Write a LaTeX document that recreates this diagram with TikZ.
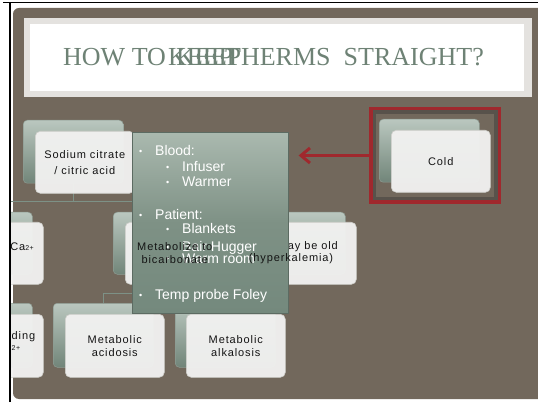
\documentclass[tikz,border=0pt]{standalone}
\usepackage{fontspec}
\setmainfont{Liberation Serif}
\setsansfont{Liberation Sans}
\newfontfamily\cardfont[LetterSpace=8]{Liberation Sans}
\usetikzlibrary{arrows.meta}
\definecolor{brownbg}{HTML}{72685C}
\definecolor{titlegray}{HTML}{E4E2DF}
\definecolor{titletext}{HTML}{6E8275}
\definecolor{cardtop}{HTML}{BAC7BF}
\definecolor{cardbot}{HTML}{718579}
\definecolor{cardedge}{HTML}{8E9C93}
\definecolor{frontfill}{HTML}{F1F1F0}
\definecolor{frontedge}{HTML}{CFCFCB}
\definecolor{linkc}{HTML}{7D9186}
\definecolor{boxtop}{HTML}{AAB9AF}
\definecolor{boxmid}{HTML}{7E9185}
\definecolor{boxbot}{HTML}{74897D}
\definecolor{boxedge}{HTML}{5C6B62}
\definecolor{redc}{HTML}{A0282D}
\definecolor{framegray}{HTML}{58524B}
\tikzset{
  backcard/.style={draw=cardedge, line width=0.5pt, rounded corners=4pt, top color=cardtop, bottom color=cardbot, inner sep=0pt, anchor=north west},
  frontcard/.style={draw=frontedge, line width=0.6pt, rounded corners=5pt, fill=frontfill, fill opacity=0.96, inner sep=0pt, anchor=north west},
  cardtext/.style={font=\cardfont\fontsize{11}{13}\selectfont, text=black!92, align=center, inner sep=0pt},
  link/.style={draw=linkc, line width=0.7pt},
  bul/.style={font=\sffamily\fontsize{14}{16}\selectfont, text=white, anchor=base west, inner sep=0pt},
  dot/.style={font=\sffamily\fontsize{9}{10}\selectfont, text=white, anchor=base west, inner sep=0pt},
  ttl/.style={font=\fontsize{26}{30}\selectfont, text=titletext, inner sep=0pt, anchor=base west}
}
\begin{document}
\begin{tikzpicture}[x=1pt,y=1pt]
\useasboundingbox (0,0) rectangle (538,402);
\fill[white] (0,0) rectangle (538,402);
\fill[brownbg, rounded corners=6pt] (13,3) rectangle (560,394);
\draw[black, line width=1.5pt] (9.8,0) -- (9.8,399.5);
\draw[black, line width=1.5pt] (3,399.3) -- (538,399.3);
% title
\node[fill=titlegray, minimum width=508pt, minimum height=79pt, inner sep=0pt, anchor=north west] (tbox) at (24,384) {};
\node[fill=white, minimum width=494pt, minimum height=67pt, inner sep=0pt, anchor=north west] (tin) at (30,378) {};
\node[ttl] (ta) at (63,336) {HOW TO};
\node[ttl] (tb) at (168,336) {KEEP};
\node[ttl] (tc) at (176,336) {KEEP};
\node[ttl] (td) at (225,336) {THERMS};
\node[ttl, anchor=base east] (te) at (484,336) {STRAIGHT?};
% diagram cards
\begin{scope}
\clip (11,0) rectangle (538,402);
\node[backcard, minimum width=100pt, minimum height=63pt] (sb) at (23,282) {};
\node[backcard, minimum width=100pt, minimum height=62pt] (cab) at (-68,190) {};
\node[backcard, minimum width=99pt, minimum height=62pt] (mb) at (113,190) {};
\node[backcard, minimum width=121pt, minimum height=62pt] (rb) at (224,190) {};
\node[backcard, minimum width=100pt, minimum height=64pt] (lbb) at (-68,99) {};
\node[backcard, minimum width=100pt, minimum height=64pt] (acb) at (53,99) {};
\node[backcard, minimum width=100pt, minimum height=64pt] (alb) at (175,99) {};
\draw[link] (sb.south) -- ++(0,-18) -| (cab.north);
\draw[link] (sb.south) -- ++(0,-18) -| (mb.north);
\draw[link] (sb.south) -- ++(0,-18) -| (rb.north);
\draw[link] (mb.south) -- ++(0,-19) -| (acb.north);
\draw[link] (mb.south) -- ++(0,-19) -| (alb.north);
\draw[link] (cab.south) -- (lbb.north);
\node[frontcard, minimum width=99pt, minimum height=62pt] (sf) at (35,271) {};
\node[frontcard, minimum width=99pt, minimum height=62pt] (caf) at (-56,180) {};
\node[frontcard, minimum width=99pt, minimum height=62pt] (mf) at (125,180) {};
\node[frontcard, minimum width=120pt, minimum height=62pt] (rf) at (236,180) {};
\node[frontcard, minimum width=99pt, minimum height=63pt] (lbf) at (-56,88) {};
\node[frontcard, minimum width=99pt, minimum height=63pt] (acf) at (65,88) {};
\node[frontcard, minimum width=99pt, minimum height=63pt] (alf) at (186,88) {};
\end{scope}
\node[cardtext, anchor=east] (r1) at (338,155) {may be old};
% cold
\node[backcard, minimum width=100pt, minimum height=63pt] (cb) at (379,283) {};
\node[frontcard, minimum width=99pt, minimum height=62pt] (cf) at (391,272) {};
\node[cardtext] (ct) at (cf.center) {Cold};
\node[draw=framegray, line width=5.5pt, minimum width=123pt, minimum height=88pt, inner sep=0pt] (frame) at (435,246.5) {};
\draw[redc, line width=3.5pt] (frame.south west) rectangle (frame.north east);
% big box
\node[draw=boxedge, line width=0.6pt, minimum width=156pt, minimum height=181pt, inner sep=0pt, anchor=north west,
  shading=axis, top color=boxtop, bottom color=boxbot, middle color=boxmid] (box) at (132,270) {};
\draw[redc, line width=3pt, -{Straight Barb[length=9pt,width=15pt]}] (frame.west) -- ([xshift=10pt]frame.west -| box.east);
% bullets
\node[dot] (d1) at (139,247) {•};
\node[bul] (b1) at (155,246) {Blood:};
\node[dot] (d2) at (166,231) {•};
\node[bul] (b2) at (182,230) {Infuser};
\node[dot] (d3) at (166,216) {•};
\node[bul] (b3) at (182,215) {Warmer};
\node[dot] (d4) at (139,183) {•};
\node[bul] (b4) at (155,182) {Patient:};
\node[dot] (d5) at (166,169) {•};
\node[bul] (b5) at (182,168) {Blankets};
\node[dot] (d6) at (166,151) {•};
\node[bul] (b6) at (182,150) {Bair Hugger};
\node[dot] (d7) at (166,140) {•};
\node[bul] (b7) at (182,139) {Warm room};
\node[dot] (d8) at (139,104) {•};
\node[bul] (b8) at (155,103) {Temp probe Foley};
% card texts on top
\node[cardtext] (st) at (sf.center) {Sodium citrate\\[3pt]/ citric acid};
\node[cardtext, anchor=east] (cat) at (34,155) {Ca\raisebox{0.5pt}{\fontsize{7}{8}\selectfont 2+}};
\node[cardtext] (mt) at (mf.center) {Metabolize to\\bicarbonate};
\node[cardtext] (r2) at (291,143) {(hyperkalemia)};
\node[cardtext] (at) at (acf.center) {Metabolic\\acidosis};
\node[cardtext] (lt) at (alf.center) {Metabolic\\alkalosis};
\node[cardtext, anchor=west] (bl1) at (11.5,65) {ding};
\node[cardtext, anchor=west, font=\cardfont\fontsize{7}{8}\selectfont] (bl2) at (11.5,54) {2+};
\end{tikzpicture}
\end{document}
